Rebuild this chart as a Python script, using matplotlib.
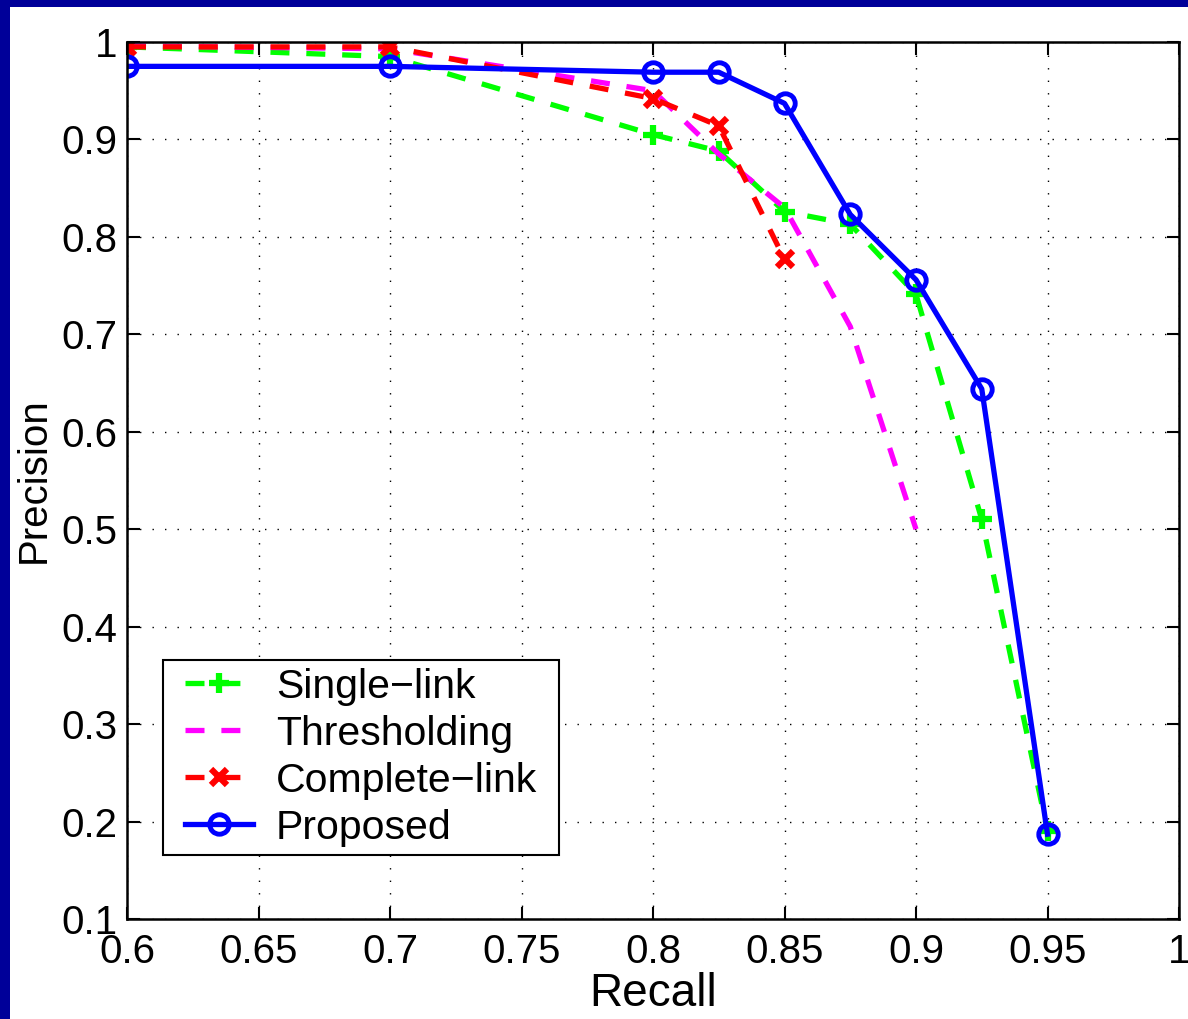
import matplotlib
matplotlib.use("Agg")
import matplotlib.pyplot as plt
from matplotlib.patches import Rectangle

plt.rcParams['font.family'] = ['Liberation Sans', 'DejaVu Sans']

# recall values on the x axis
recall_single = [0.6, 0.7, 0.8, 0.825, 0.85, 0.875, 0.9, 0.925, 0.95]
prec_single = [0.995, 0.985, 0.905, 0.888, 0.826, 0.813, 0.741, 0.510, 0.190]

recall_thresh = [0.6, 0.7, 0.8, 0.825, 0.85, 0.875, 0.9]
prec_thresh = [0.996, 0.993, 0.950, 0.885, 0.830, 0.708, 0.500]

recall_complete = [0.6, 0.7, 0.8, 0.825, 0.85]
prec_complete = [0.995, 0.995, 0.942, 0.914, 0.777]

recall_proposed = [0.6, 0.7, 0.8, 0.825, 0.85, 0.875, 0.9, 0.925, 0.95]
prec_proposed = [0.975, 0.975, 0.969, 0.969, 0.937, 0.823, 0.756, 0.644, 0.187]

x_ticks = [0.6, 0.65, 0.7, 0.75, 0.8, 0.85, 0.9, 0.95, 1.0]
x_labels = ['0.6', '0.65', '0.7', '0.75', '0.8', '0.85', '0.9', '0.95', '1']
y_ticks = [0.1, 0.2, 0.3, 0.4, 0.5, 0.6, 0.7, 0.8, 0.9, 1.0]
y_labels = ['0.1', '0.2', '0.3', '0.4', '0.5', '0.6', '0.7', '0.8', '0.9', '1']

W, H = 1188, 1019
fig = plt.figure(figsize=(W / 100, H / 100), dpi=100)
fig.patch.set_facecolor('#000099')
# white sheet, leaving the navy slide border on left and top
fig.patches.append(Rectangle((10 / W, 0), 1, 1 - 7 / H, transform=fig.transFigure,
                             facecolor='white', edgecolor='none', zorder=-5))

ax = fig.add_axes([127 / W, 1 - 919 / H, (1179 - 127) / W, (919 - 42) / H])
ax.set_facecolor('white')

dash = (0, (3.6, 3.2))
lw = 3.8
ax.plot(recall_single, prec_single, color='#00ff00', linestyle=dash, linewidth=lw,
        marker='+', markersize=15, markeredgewidth=4.5, label='Single\u2212link')
ax.plot(recall_thresh, prec_thresh, color='#ff00ff', linestyle=dash, linewidth=lw,
        label='Thresholding')
ax.plot(recall_complete, prec_complete, color='#ff0000', linestyle=dash, linewidth=lw,
        marker='x', markersize=12, markeredgewidth=4.5, label='Complete\u2212link')
ax.plot(recall_proposed, prec_proposed, color='#0000ff', linestyle='-', linewidth=lw,
        marker='o', markersize=14, markerfacecolor='none', markeredgewidth=3.5,
        label='Proposed')

ax.set_xlim(0.6, 1.0)
ax.set_ylim(0.1, 1.0)
ax.set_xticks(x_ticks)
ax.set_xticklabels(x_labels)
ax.set_yticks(y_ticks)
ax.set_yticklabels(y_labels)
ax.tick_params(direction='in', length=9, width=1.5, labelsize=29, pad=7,
               top=True, right=True)
ax.tick_params(axis='x', pad=10)
ax.grid(True, color='black', linestyle=(0, (1, 8)), linewidth=1.0)
for s in ax.spines.values():
    s.set_linewidth(1.8)

ax.set_xlabel('Recall', fontsize=33, labelpad=1)
ax.set_ylabel('Precision', fontsize=29, labelpad=6)

leg = ax.legend(loc='lower left', bbox_to_anchor=(0.0475, 0.073), fontsize=29.5,
                handlelength=1.65, handletextpad=0.56, labelspacing=0.22,
                borderpad=0.2, borderaxespad=0, frameon=False)

# MATLAB-style legend box: wider side margins than top/bottom
fig.canvas.draw()
bb = leg.get_window_extent()
padx = 14
box = Rectangle((bb.x0 - padx, bb.y0), bb.width + 2 * padx, bb.height,
                transform=None, facecolor='white', edgecolor='black',
                linewidth=1.5, zorder=4.9, clip_on=False)
ax.add_artist(box)

fig.savefig('out.png', dpi=100, facecolor=fig.get_facecolor())
